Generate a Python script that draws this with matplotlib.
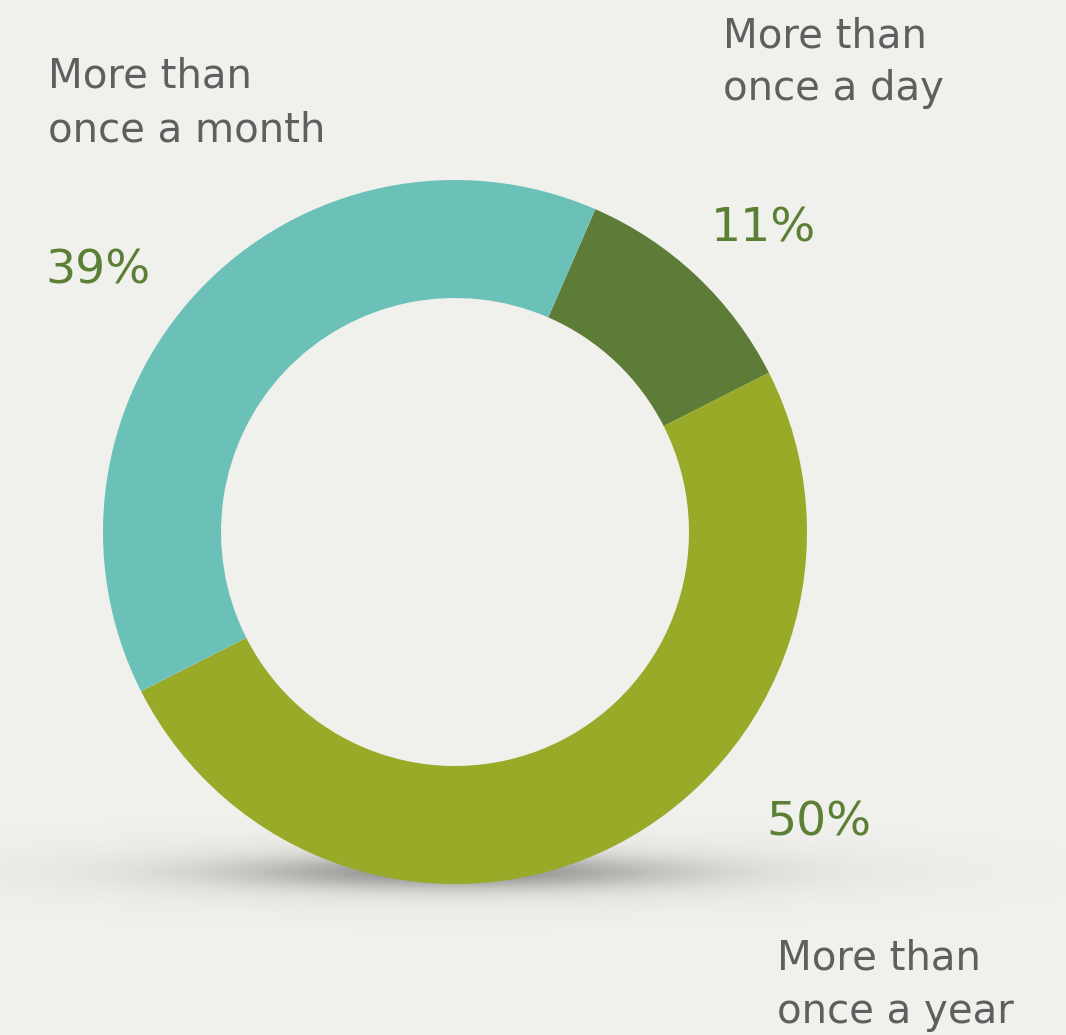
import numpy as np
import matplotlib.pyplot as plt

# share of respondents by frequency
categories = ['More than\nonce a day', 'More than\nonce a year', 'More than\nonce a month']
shares = [11, 50, 39]
colors = ['#5c7c38', '#98aa28', '#6bc1b7']

W, H = 1066, 1035
bg = '#f0f0ec'
text_grey = '#5f5f5f'
pct_green = '#5b7f34'

fig = plt.figure(figsize=(W / 100, H / 100), dpi=100, facecolor=bg)
ax = fig.add_axes([0, 0, 1, 1])
ax.set_xlim(0, W)
ax.set_ylim(0, H)
ax.set_aspect('equal')
ax.axis('off')
ax.set_facecolor(bg)

cx, cy, r = 455, H - 532, 352

# soft floor shadow under the ring
xs = np.linspace(0, W, 600)
ys = np.linspace(H - 960, H - 800, 160)
gx, gy = np.meshgrid(xs, ys)
sy0 = H - 872
core = 0.50 * np.exp(-((gx - cx) / 210) ** 2 - ((gy - sy0) / 16) ** 2)
halo = 0.14 * np.exp(-((gx - cx) / 360) ** 2 - ((gy - sy0) / 32) ** 2)
alpha = np.clip(core + halo, 0, 1)
rgba = np.zeros(gx.shape + (4,))
rgba[..., :3] = 0.35
rgba[..., 3] = alpha
ax.imshow(rgba, extent=(0, W, H - 960, H - 800), origin='lower', aspect='auto', zorder=0)

ax.pie(shares, colors=colors, startangle=66.5, counterclock=False,
       center=(cx, cy), radius=r, wedgeprops=dict(width=118, linewidth=0))
ax.set_xlim(0, W)
ax.set_ylim(0, H)

font = 'DejaVu Sans'
label_pos = [(723, 47), (777, 970), (48, 88)]
pct_pos = [(711, 242), (766, 836), (45, 283)]
for name, val, (lx, ly), (px, py) in zip(categories, shares, label_pos, pct_pos):
    first, second = name.split('\n')
    ax.text(lx, H - ly, first, fontsize=29, color=text_grey, family=font,
            ha='left', va='baseline')
    ax.text(lx, H - ly - 53, second, fontsize=29, color=text_grey, family=font,
            ha='left', va='baseline')
    ax.text(px, H - py, '%d%%' % val, fontsize=34, color=pct_green, family=font,
            ha='left', va='baseline')

fig.savefig('out.png', dpi=100, facecolor=bg)
